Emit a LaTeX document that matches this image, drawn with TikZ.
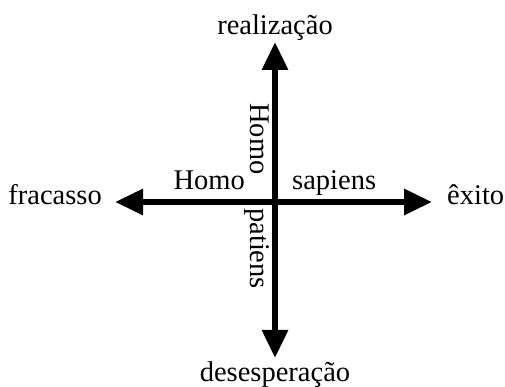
\documentclass[tikz,border=0pt]{standalone}
\usepackage{fontspec}
\setmainfont{Liberation Serif}
\usetikzlibrary{positioning,arrows.meta}

\begin{document}
\begin{tikzpicture}[
    x=1pt, y=1pt,
    lbl/.style={inner sep=0pt, font=\fontsize{28.5}{32}\selectfont},
    axis/.style={{Triangle[length=28pt,width=25pt]}-{Triangle[length=28pt,width=25pt]},
                 line width=6pt}
  ]
    \useasboundingbox (0,0) rectangle (505,387);

    % axes
    \coordinate (O) at (275,185);
    \coordinate (W) at (115,185);
    \coordinate (E) at (432,185);
    \coordinate (N) at (275,345);
    \coordinate (S) at (275,29);
    \draw[axis] (W) -- (E);
    \draw[axis] (N) -- (S);

    % ends
    \node[lbl, left=13pt of W, anchor=base east, yshift=-3pt] (fracasso) {fracasso};
    \node[lbl, right=15pt of E, anchor=base west, yshift=-3pt] (exito) {êxito};
    \node[lbl, above=7pt of N, anchor=base] (realizacao) {realização};
    \node[lbl, below=24pt of S, anchor=base] (desesperacao) {desesperação};

    % quadrants
    \node[lbl, above left=12pt and 30pt of O] (homoH) {Homo};
    \node[lbl, above right=6pt and 17pt of O] (sapiens) {sapiens};
    \node[lbl, rotate=-90, anchor=base west] (homoV) at (250,284) {Homo};
    \node[lbl, rotate=-90, anchor=base west] (patiens) at (250,179) {patiens};
  \end{tikzpicture}
\end{document}
